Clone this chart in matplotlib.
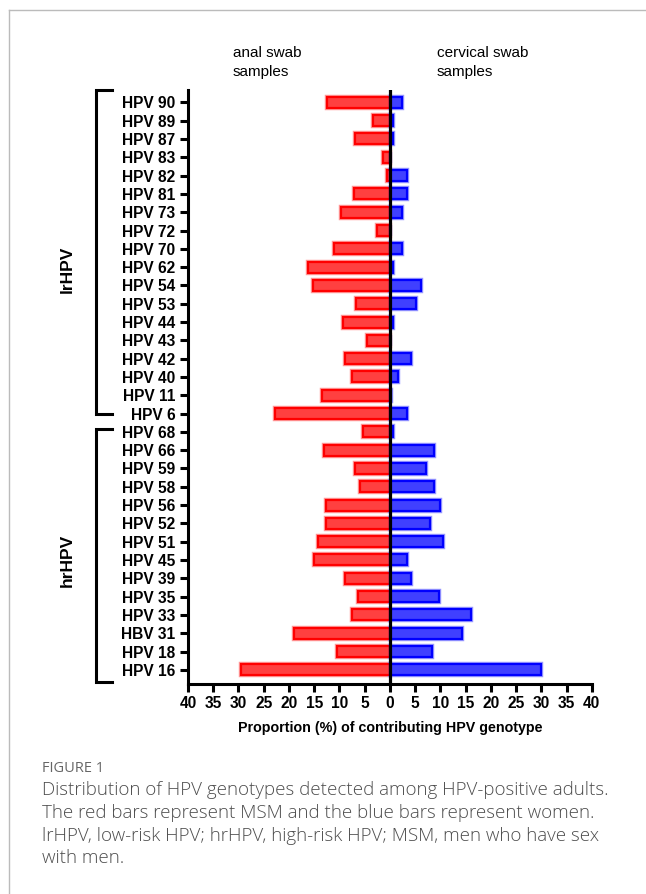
import matplotlib
matplotlib.use("Agg")
import matplotlib.pyplot as plt
from matplotlib.lines import Line2D
from matplotlib import transforms
import numpy as np

# genotypes, top to bottom as in the figure
genotypes = ["HPV 90", "HPV 89", "HPV 87", "HPV 83", "HPV 82", "HPV 81", "HPV 73",
             "HPV 72", "HPV 70", "HPV 62", "HPV 54", "HPV 53", "HPV 44", "HPV 43",
             "HPV 42", "HPV 40", "HPV 11", "HPV 6",
             "HPV 68", "HPV 66", "HPV 59", "HPV 58", "HPV 56", "HPV 52", "HPV 51",
             "HPV 45", "HPV 39", "HPV 35", "HPV 33", "HBV 31", "HPV 18", "HPV 16"]

# proportion (%) in anal swab samples (MSM, red)
anal = [12.5, 3.4, 6.9, 1.3, 0.6, 7.2, 9.7, 2.6, 11.0, 16.3, 15.3, 6.7, 9.3, 4.6,
        8.9, 7.5, 13.5, 22.8,
        5.4, 13.0, 6.9, 6.0, 12.6, 12.6, 14.3, 15.0, 8.9, 6.4, 7.5, 19.0, 10.4, 29.4]

# proportion (%) in cervical swab samples (women, blue)
cervical = [2.4, 0.7, 0.7, 0.0, 3.3, 3.3, 2.4, 0.0, 2.4, 0.7, 6.1, 5.2, 0.7, 0.0,
            4.2, 1.6, 0.3, 3.4,
            0.7, 8.7, 7.1, 8.7, 9.9, 7.9, 10.5, 3.3, 4.2, 9.7, 16.0, 14.2, 8.4, 29.9]

xticks = [-40, -35, -30, -25, -20, -15, -10, -5, 0, 5, 10, 15, 20, 25, 30, 35, 40]

plt.rcParams['font.family'] = ['Liberation Sans', 'DejaVu Sans']

fig = plt.figure(figsize=(6.46, 8.94), dpi=100)
ax = fig.add_axes([0.291, 0.235, 0.625, 0.664])

n = len(genotypes)
ypos = np.arange(n)[::-1]  # HPV 90 at top

# soft halo + bar, as in the exported graphic
ax.barh(ypos, -np.array(anal), height=0.6, color='none', edgecolor='#ff9a9a',
        linewidth=3.2, zorder=1)
ax.barh(ypos, -np.array(anal), height=0.6, color='#ff4040', edgecolor='#ff0000',
        linewidth=1.6, zorder=2)
ax.barh(ypos, cervical, height=0.6, color='none', edgecolor='#9a9aff',
        linewidth=3.2, zorder=1)
ax.barh(ypos, cervical, height=0.6, color='#4040ff', edgecolor='#0000ff',
        linewidth=1.6, zorder=2)
ax.axvline(0, color='black', lw=2.3, zorder=3)

ax.set_xlim(-40, 40)
ax.set_ylim(-0.77, n - 1 + 0.66)
ax.set_xticks(xticks)
ax.set_xticklabels([str(abs(t)) for t in xticks], fontsize=11.2, fontweight='bold')
ax.set_yticks(ypos)
ax.set_yticklabels(genotypes, fontsize=11.2, fontweight='bold')
ax.tick_params(axis='both', direction='out', length=6, width=2.2, pad=3)
for s in ['top', 'right']:
    ax.spines[s].set_visible(False)
for s in ['left', 'bottom']:
    ax.spines[s].set_linewidth(2.2)
ax.set_xlabel("Proportion (%) of contributing HPV genotype", fontsize=10.3,
              fontweight='bold', labelpad=7)

# group brackets on the left
trans = transforms.blended_transform_factory(ax.transAxes, ax.transData)
groups = [("lrHPV", 31.7, 14.0, 21.9), ("hrHPV", 13.15, -0.65, 6.0)]
for name, top, bot, mid in groups:
    ax.add_line(Line2D([-0.188, -0.228, -0.228, -0.188], [top, top, bot, bot],
                       transform=trans, color='black', lw=2.2, clip_on=False,
                       solid_joinstyle='miter'))
    ax.text(-0.298, mid, name, transform=trans, rotation=90, ha='center',
            va='center', fontsize=12.5, fontweight='bold')

# side headings
fig.text(233 / 646, 1 - 46 / 894, "anal swab\nsamples", fontsize=11,
         va='top', ha='left', linespacing=1.45)
fig.text(437 / 646, 1 - 46 / 894, "cervical swab\nsamples", fontsize=11,
         va='top', ha='left', linespacing=1.45)

# frame of the figure panel
fig.add_artist(Line2D([9 / 646, 1], [1 - 10 / 894, 1 - 10 / 894], color='#bbbbbb', lw=1))
fig.add_artist(Line2D([9 / 646, 9 / 646], [0, 1 - 10 / 894], color='#bbbbbb', lw=1))

# caption
fig.text(42 / 646, 1 - 768 / 894, "FIGURE 1", fontsize=10.5, color='#666666',
         va='center', ha='left', family=['Open Sans', 'DejaVu Sans'])
caption = ["Distribution of HPV genotypes detected among HPV-positive adults.",
           "The red bars represent MSM and the blue bars represent women.",
           "lrHPV, low-risk HPV; hrHPV, high-risk HPV; MSM, men who have sex",
           "with men."]
for i, line in enumerate(caption):
    fig.text(42 / 646, 1 - (790 + 22.8 * i) / 894, line, fontsize=13.5,
             color='#4d4d4d', va='center', ha='left',
             family=['Open Sans', 'DejaVu Sans'], fontweight='light')

fig.savefig("out.png", dpi=100)
